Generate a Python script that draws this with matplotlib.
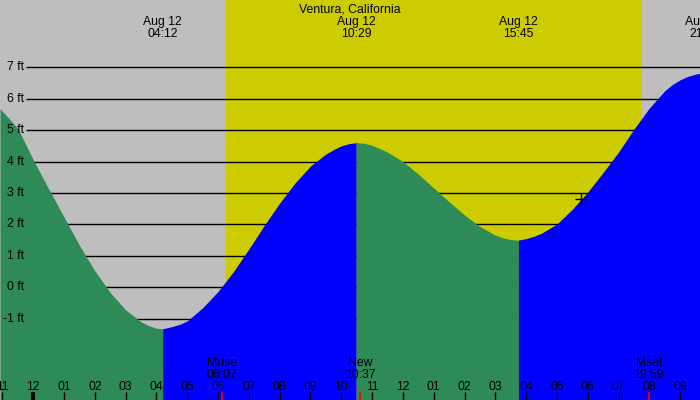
import matplotlib
matplotlib.use("Agg")
import matplotlib.pyplot as plt
import numpy as np

plt.rcParams['font.family'] = ['Liberation Sans', 'DejaVu Sans']

# tide height (ft), hours after midnight Aug 12
tide_t = [-1.08, -1.0, -0.5, 0.0, 0.5, 1.0, 1.5, 2.0, 2.5, 3.0, 3.5, 3.75, 4.0, 4.2,
          4.5, 4.75, 5.0, 5.5, 6.0, 6.5, 7.0, 7.5, 8.0, 8.5, 9.0, 9.5, 9.75, 10.0, 10.25, 10.483,
          10.75, 11.0, 11.5, 12.0, 12.5, 13.0, 13.5, 14.0, 14.5, 15.0, 15.25, 15.5, 15.75,
          16.0, 16.25, 16.5, 17.0, 17.5, 18.0, 18.5, 19.0, 19.5, 20.0, 20.5, 20.75, 21.0,
          21.25, 21.5, 21.65]
tide_h = [5.68, 5.60, 5.05, 4.05, 3.13, 2.23, 1.33, 0.52, -0.17, -0.72, -1.10, -1.22, -1.30, -1.32,
          -1.25, -1.18, -1.07, -0.65, -0.13, 0.50, 1.22, 1.97, 2.68, 3.32, 3.86, 4.24, 4.38, 4.50, 4.57, 4.60,
          4.58, 4.52, 4.30, 4.00, 3.60, 3.16, 2.72, 2.30, 1.93, 1.66, 1.57, 1.52, 1.50,
          1.55, 1.62, 1.72, 2.01, 2.48, 3.03, 3.65, 4.30, 5.03, 5.70, 6.25, 6.45, 6.60,
          6.71, 6.78, 6.81]

# high / low tides
ext_t = [4.2, 10.483, 15.75, 21.78]
ext_lbl = ["04:12", "10:29", "15:45", "21:47"]

# moon events
moon_t = [6.117, 10.617, 19.983]
moon_name = ["Mrise", "New", "Mset"]
moon_lbl = ["06:07", "10:37", "19:59"]

sunrise = 6.26
sunset = 19.76
now_t, now_h = 17.77, 2.80

ft_levels = [-1, 0, 1, 2, 3, 4, 5, 6, 7]
hours = list(range(-1, 22))

x0, x1 = -1.081, 21.646
y0, y1 = -3.586, 9.14

fig = plt.figure(figsize=(7, 4), dpi=100)
fig.patch.set_facecolor('#bebebe')
ax = fig.add_axes([0, 0, 1, 1])
ax.set_xlim(x0, x1)
ax.set_ylim(y0, y1)
ax.axis('off')

ax.axvspan(sunrise, sunset, color='#cccc00', lw=0, zorder=1)

# grid lines + labels
for f in ft_levels:
    ax.hlines(f, -0.237, x1, color='black', lw=1, zorder=2)
    ax.text(-0.30, f, "%d ft" % f, ha='right', va='center', fontsize=8.8, zorder=5)

# fill tide, green falling, blue rising
t = np.array(tide_t)
h = np.array(tide_h)
bounds = [x0] + ext_t
for i in range(len(bounds) - 1):
    m = (t >= bounds[i] - 1e-6) & (t <= bounds[i + 1] + 1e-6)
    col = '#2e8b57' if i % 2 == 0 else '#0000ff'
    ax.fill_between(t[m], h[m], y0, color=col, lw=0, zorder=3)

ax.plot(now_t, now_h, marker='+', color='black', ms=8, mew=1, zorder=6)

xt = ax.get_xaxis_transform()
def ypx(p):
    return 1 - p / 400.0

ax.text(0.5, ypx(13), "Ventura, California", ha='center', va='baseline',
        fontsize=8.8, transform=ax.transAxes, zorder=6)
for et, el in zip(ext_t, ext_lbl):
    ax.text(et, ypx(25), "Aug 12", ha='center', va='baseline', fontsize=8.8, transform=xt, zorder=6)
    ax.text(et, ypx(37), el, ha='center', va='baseline', fontsize=8.8, transform=xt, zorder=6)

# hour ticks
for hr in hours:
    lab = "%02d" % ((hr % 12) or 12)
    ax.text(hr, ypx(390), lab, ha='center', va='baseline', fontsize=8.8, transform=xt, zorder=6)
    lw = 3 if hr == 0 else 1
    ax.vlines(hr, 0, 8 / 400.0, color='black', lw=lw, transform=xt, zorder=6)

for mt, mn, ml in zip(moon_t, moon_name, moon_lbl):
    ax.vlines(mt, 0, 8 / 400.0, color='red', lw=1.2, transform=xt, zorder=6)
    ax.text(mt, ypx(366.5), mn, ha='center', va='baseline', fontsize=8.8, transform=xt, zorder=6)
    ax.text(mt, ypx(378), ml, ha='center', va='baseline', fontsize=8.8, transform=xt, zorder=6)

fig.savefig("out.png", dpi=100, facecolor=fig.get_facecolor())
